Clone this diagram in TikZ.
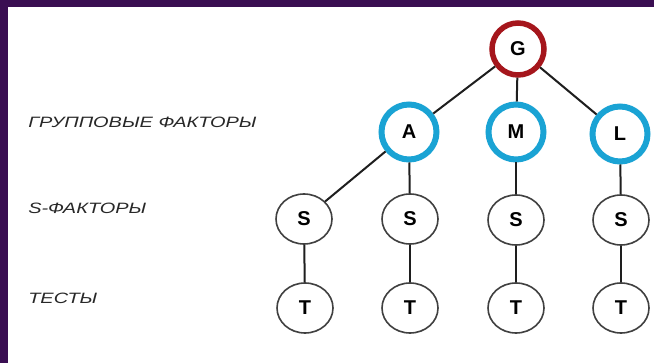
\documentclass[tikz,border=0pt]{standalone}
\usepackage{fontspec}
\setmainfont{Liberation Sans}
\usetikzlibrary{shapes.geometric}
\definecolor{framepurple}{RGB}{58,14,82}
\definecolor{gred}{RGB}{165,22,28}
\definecolor{gblue}{RGB}{26,163,212}
\definecolor{labelgray}{RGB}{40,40,40}
\definecolor{edgegray}{RGB}{30,30,30}
\begin{document}
\begin{tikzpicture}[x=1pt,y=-1pt,
  lbl/.style={anchor=west, inner sep=0pt, text=labelgray, xscale=1.33,
    font=\fontsize{15}{15}\selectfont\itshape},
  topnode/.style={circle, draw=gred, line width=5.5pt, minimum size=52pt, inner sep=0pt,
    font=\fontsize{20}{20}\selectfont\bfseries},
  grpnode/.style={circle, draw=gblue, line width=6pt, minimum size=55pt, inner sep=0pt,
    font=\fontsize{20}{20}\selectfont\bfseries},
  leafnode/.style={ellipse, draw=edgegray!85, line width=1.6pt, minimum width=56pt,
    minimum height=50pt, inner sep=0pt, font=\fontsize{20}{20}\selectfont\bfseries},
  edge/.style={draw=edgegray, line width=2pt}
]
\useasboundingbox (0,0) rectangle (654,363);
\fill[white] (0,0) rectangle (654,363);
\fill[framepurple] (0,0) rectangle (654,7);
\fill[framepurple] (0,0) rectangle (8,363);

% labels
\node[lbl] (l1) at (28,122) {ГРУППОВЫЕ ФАКТОРЫ};
\node[lbl] (l2) at (28,208) {S-ФАКТОРЫ};
\node[lbl] (l3) at (28,298) {ТЕСТЫ};

% nodes
\node[topnode] (G) at (518,49) {G};
\node[grpnode] (A) at (409,132) {A};
\node[grpnode] (M) at (516,132) {M};
\node[grpnode] (L) at (620,134) {L};

\node[leafnode] (S1) at (304,219) {S};
\node[leafnode] (S2) at (410,219) {S};
\node[leafnode] (S3) at (516,220) {S};
\node[leafnode] (S4) at (621,220) {S};

\node[leafnode] (T1) at (305,308) {T};
\node[leafnode] (T2) at (410,308) {T};
\node[leafnode] (T3) at (516,308) {T};
\node[leafnode] (T4) at (621,308) {T};

% connectors
\draw[edge] (G) -- (A);
\draw[edge] (G) -- (M);
\draw[edge] (G) -- (L);
\draw[edge] (A) -- (S1);
\draw[edge] (A) -- (S2);
\draw[edge] (M) -- (S3);
\draw[edge] (L) -- (S4);
\draw[edge] (S1) -- (T1);
\draw[edge] (S2) -- (T2);
\draw[edge] (S3) -- (T3);
\draw[edge] (S4) -- (T4);
\end{tikzpicture}
\end{document}
